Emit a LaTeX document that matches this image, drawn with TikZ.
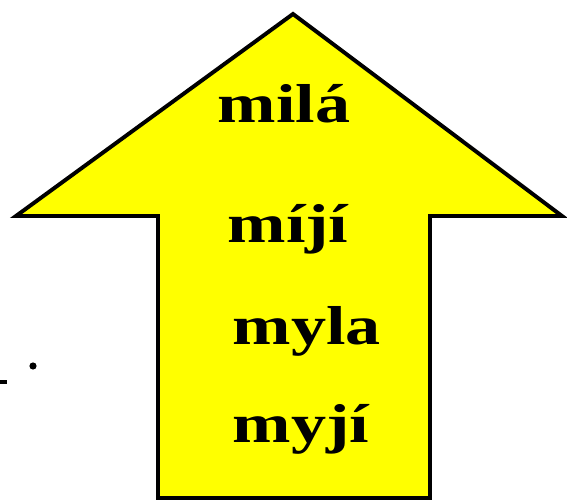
\documentclass[tikz,border=0pt]{standalone}
\usepackage{fontspec}
\setmainfont{Liberation Serif}
\usepackage{xcolor}
\usepackage{tikz}
\usetikzlibrary{positioning}
\definecolor{arrowyellow}{RGB}{255, 255, 0}

\begin{document}
\begin{tikzpicture}[line join=miter, word/.style={anchor=base, inner sep=0pt, xscale=1.28, font=\fontsize{39}{39}\selectfont\bfseries}]
    \useasboundingbox (0,0) rectangle (14.175,12.5);
    \draw[line width=2.8pt, fill=arrowyellow] (3.95,0.05) -- (3.95,7.1) -- (0.4,7.1) -- (7.325,12.15) -- (14.05,7.1) -- (10.75,7.1) -- (10.75,0.05) -- cycle;
    \node[word] (mila) at (7.1,9.425) {milá};
    \node[word] (miji) at (7.2,6.425) {míjí};
    \node[word] (myla) at (7.675,3.875) {myla};
    \node[word] (myji) at (7.525,1.425) {myjí};
    \fill (0.825,3.35) circle (0.09);
    \draw[line width=3pt] (0,2.95) -- (0.18,2.95);
\end{tikzpicture}
\end{document}
